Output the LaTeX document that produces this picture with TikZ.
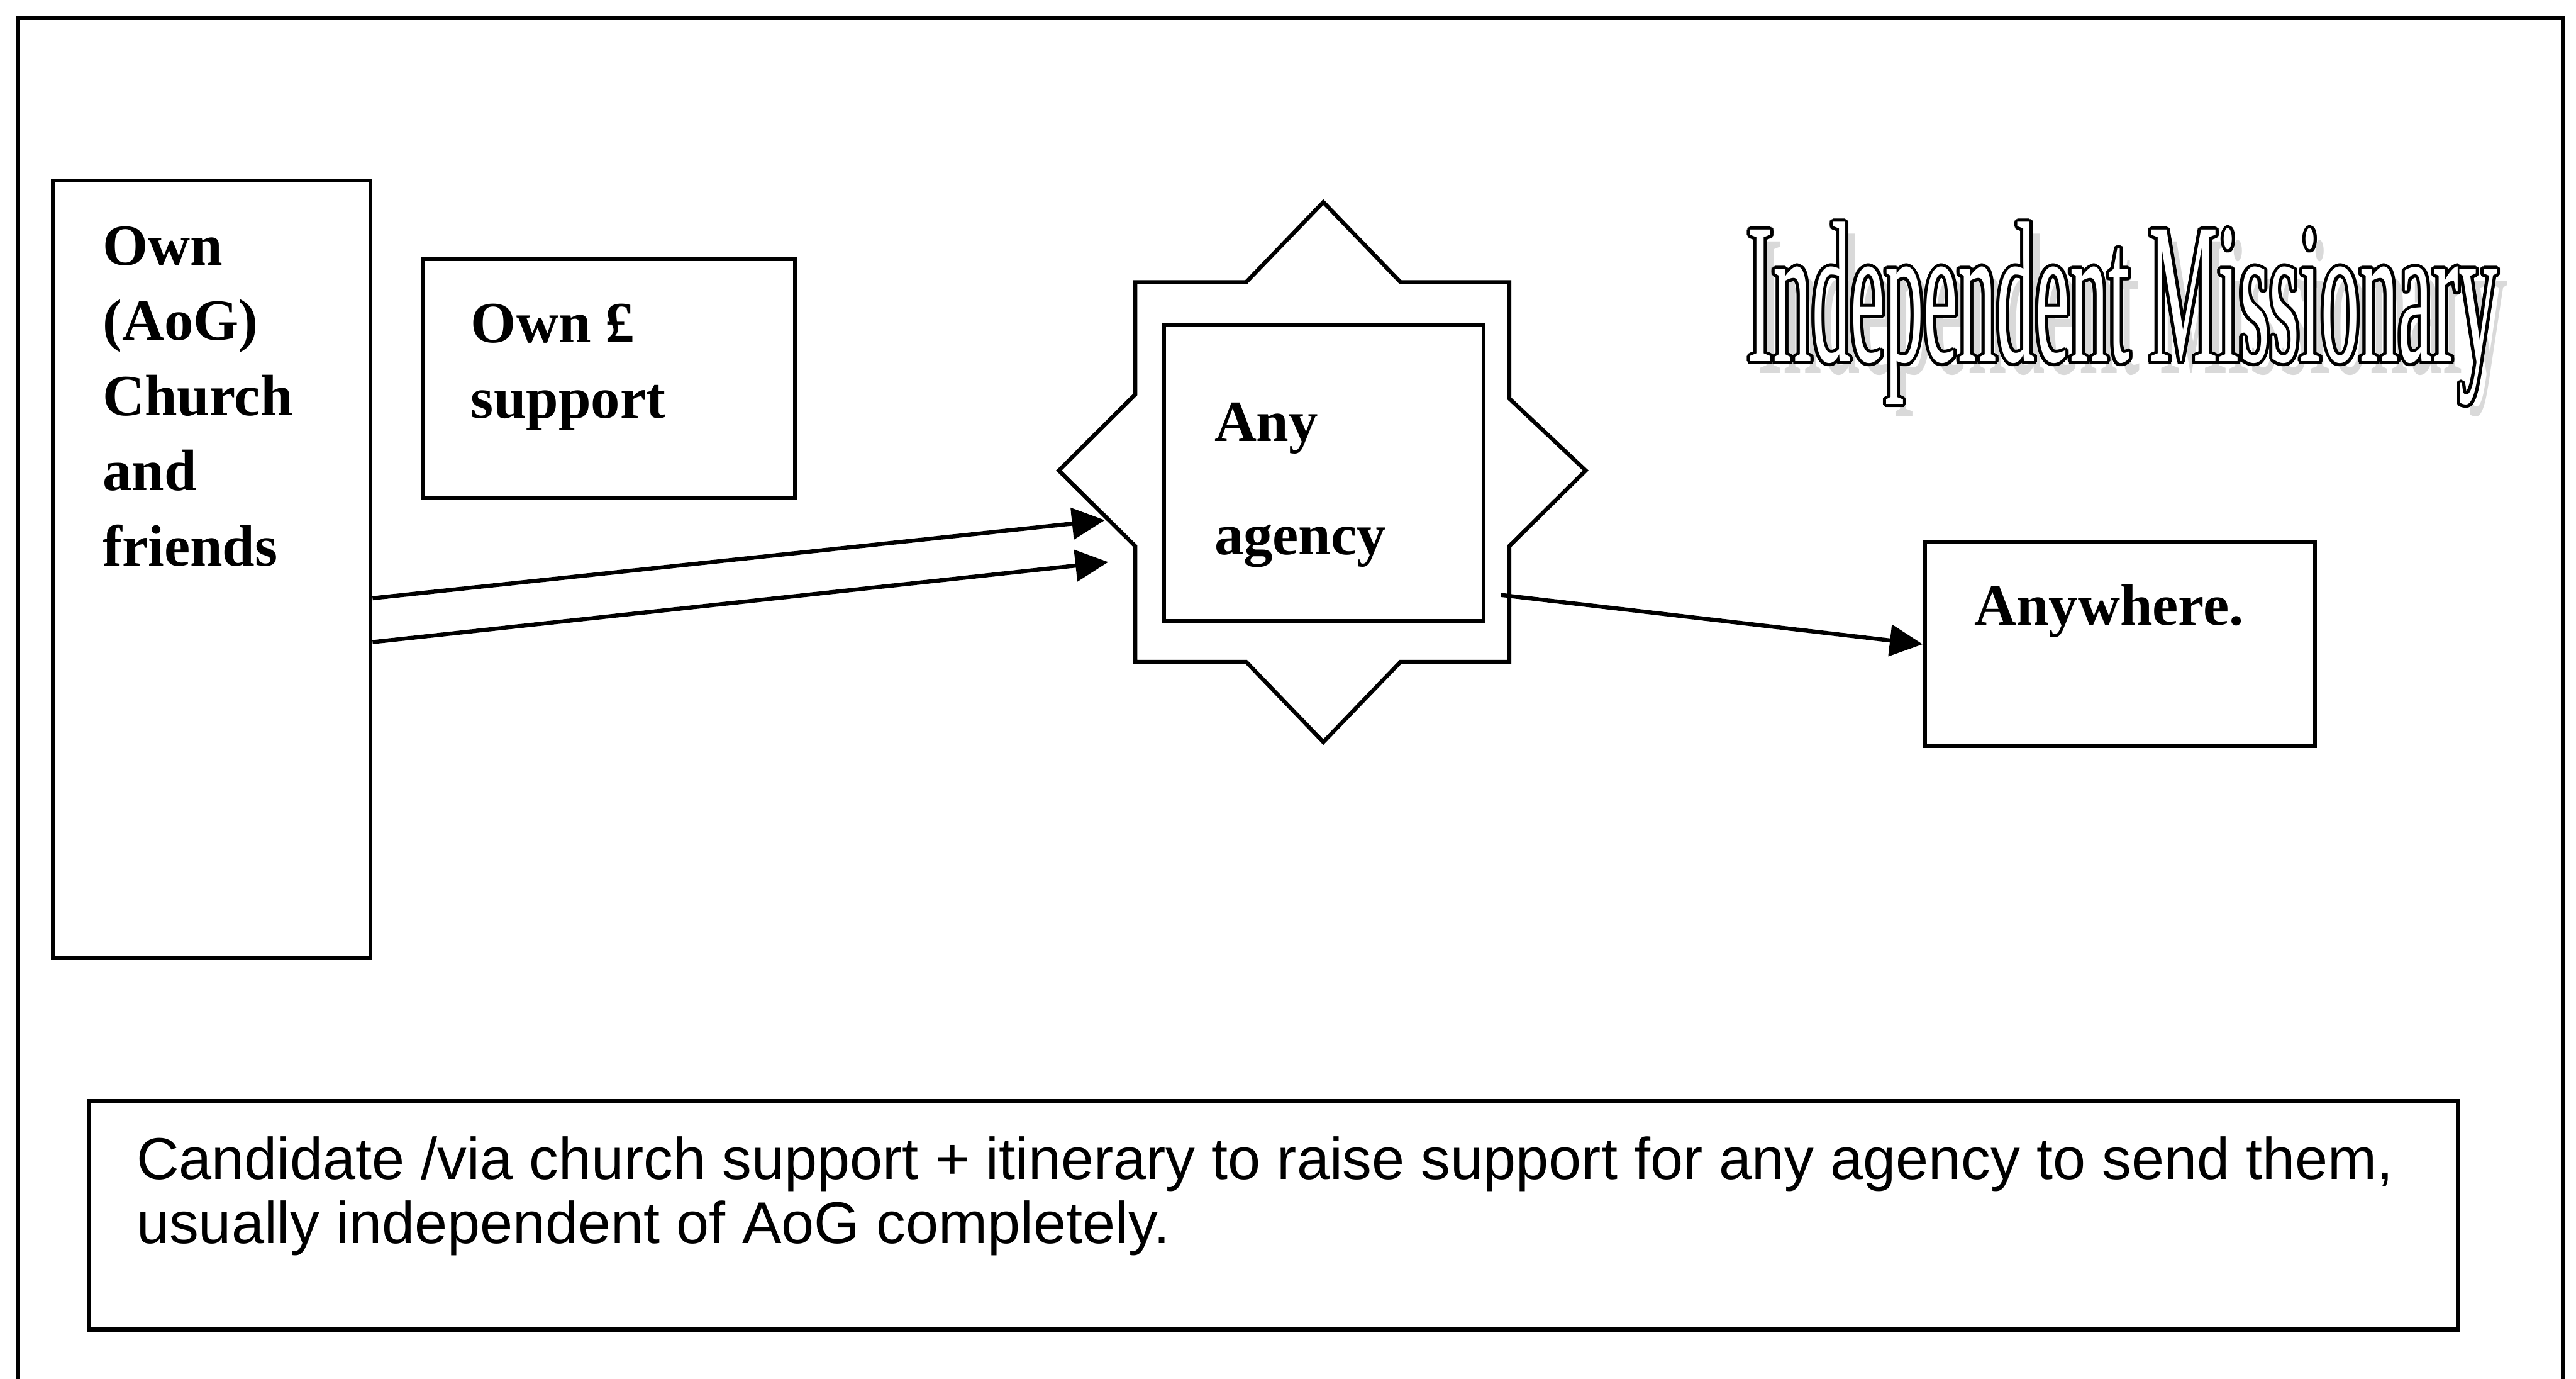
\documentclass[tikz,border=0pt]{standalone}
\usepackage{fontspec}
\setmainfont{Liberation Serif}
\newfontfamily\arialfont{Liberation Sans}
\newfontfamily\wordartfont[FakeStretch=0.385]{Liberation Serif}
\usepackage[copies]{contour}
\contourlength{0.55pt}
\contournumber{16}
\usepackage{tikz}
\usetikzlibrary{arrows.meta}
\tikzset{
  box/.style={ draw, line width=0.7pt, inner sep=0pt }
}
\tikzset{
  boxtxt/.style={ anchor=north west, inner sep=0pt, align=left, font=\fontsize{10.1}{13.02}\selectfont\bfseries }
}
\tikzset{
  notetxt/.style={ anchor=north west, inner sep=0pt, align=left, font=\arialfont\fontsize{10.2}{11.12}\selectfont }
}
\tikzset{
  link/.style={ line width=0.7pt, -{Triangle[length=0.2cm, width=0.19cm]} }
}

\begin{document}
\begin{tikzpicture}[y=1cm, x=1cm]
      \useasboundingbox (0,0) rectangle (15.68,-8.39);
      \draw[line width=0.7pt] (0.11,-0.11) rectangle (15.60,-8.70);

      % boxes
      \node[box, minimum width=1.933cm, minimum height=4.732cm] (church) at (1.289,-3.464) {};
      \node[box, minimum width=2.264cm, minimum height=1.454cm] (support) at (3.708,-2.303) {};
      \node[box, minimum width=1.946cm, minimum height=1.805cm] (agency) at (8.057,-2.878) {};
      \node[box, minimum width=2.375cm, minimum height=1.240cm] (anywhere) at (12.903,-3.920) {};
      \node[box, minimum width=14.42cm, minimum height=1.390cm] (note) at (7.750,-7.395) {};

      % star round the agency
      \draw[line width=0.7pt] (6.910,-1.717) -- (7.585,-1.717) -- (8.055,-1.230) -- (8.525,-1.717)
        -- (9.187,-1.717) -- (9.187,-2.425) -- (9.652,-2.863) -- (9.187,-3.323) -- (9.187,-4.027)
        -- (8.525,-4.027) -- (8.055,-4.515) -- (7.585,-4.027) -- (6.910,-4.027) -- (6.910,-3.323)
        -- (6.445,-2.863) -- (6.910,-2.400) -- cycle;

      % texts
      \node[boxtxt] (churchtxt) at (0.618,-1.285) {\strut Own\\(AoG)\\Church\\and\\friends};
      \node[boxtxt] (supporttxt) at (2.860,-1.758) {\strut Own \pounds\\support};
      \node[boxtxt, font=\fontsize{10.1}{19.6}\selectfont\bfseries] (agencytxt) at (7.385,-2.197) {\strut Any\\agency};
      \node[boxtxt] (anywheretxt) at (12.010,-3.477) {\strut Anywhere.};
      \node[notetxt] (notetxt) at (0.824,-6.894) {\strut Candidate /via church support + itinerary to raise support for any agency to send them,\\usually independent of AoG completely.};

      % title
      \node[anchor=base west, inner sep=0pt, text=gray!30, font=\wordartfont\fontsize{34.8}{36}\selectfont] (titleshadow) at (10.69,-2.27) {Independent Missionary};
      \node[anchor=base west, inner sep=0pt, text=white, font=\wordartfont\fontsize{34.8}{36}\selectfont] (title) at (10.63,-2.20) {\contour{black}{Independent Missionary}};

      % connectors
      \coordinate (in1) at (6.725,-3.165);
      \coordinate (in2) at (6.746,-3.420);
      \coordinate (out) at (9.136,-3.620);
      \draw[link] ([yshift=-0.176cm]church.east) -- (in1);
      \draw[link] ([yshift=-0.443cm]church.east) -- (in2);
      \draw[link] (out) -- (anywhere.west);
    \end{tikzpicture}
\end{document}
